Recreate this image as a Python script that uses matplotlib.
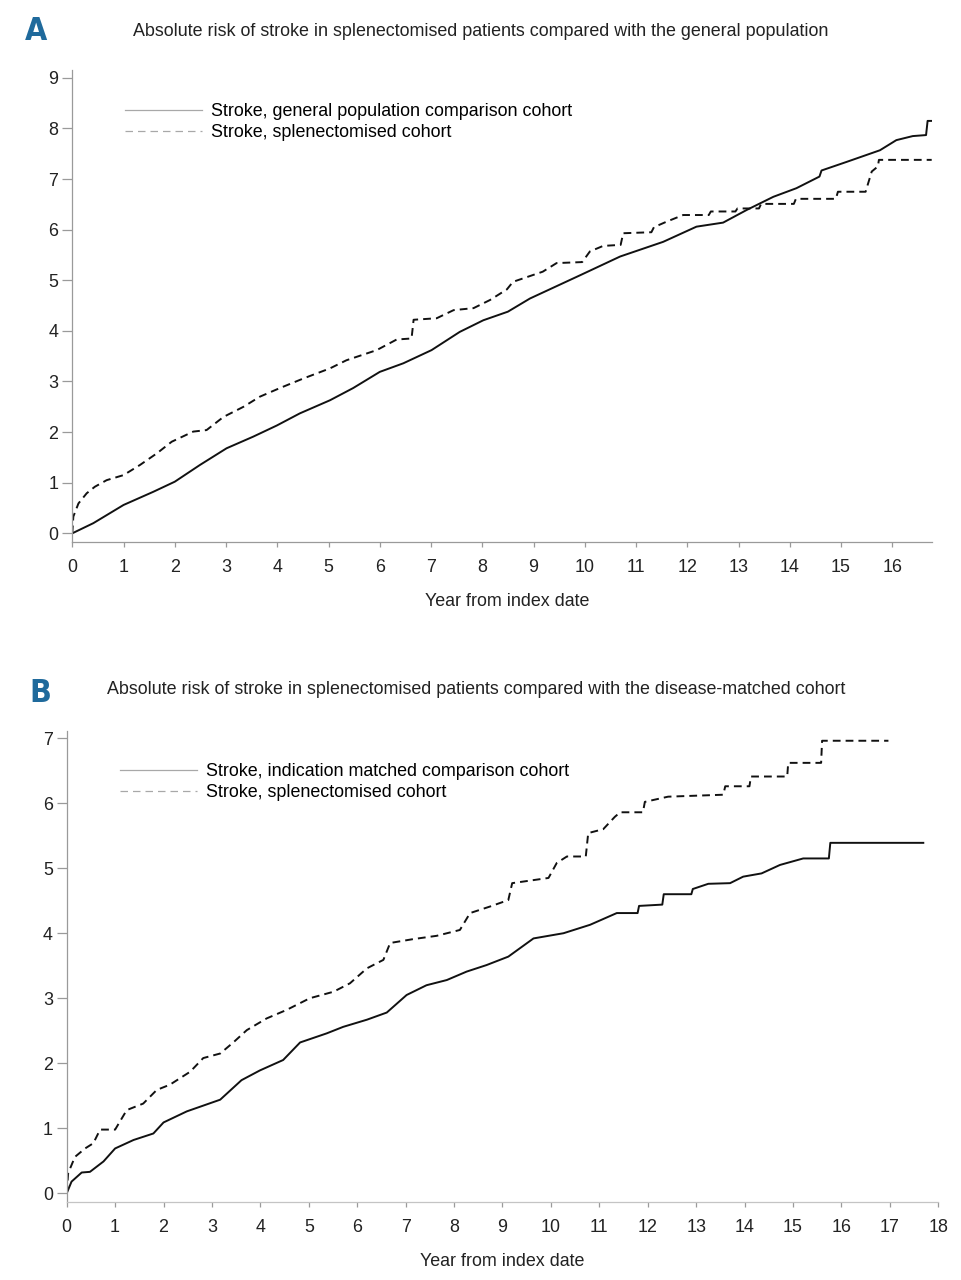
import matplotlib
matplotlib.use("Agg")
import matplotlib.pyplot as plt
from matplotlib.lines import Line2D

plt.rcParams['font.family'] = ['Liberation Sans', 'DejaVu Sans']

# ---- data (year from index date, absolute risk %) ----
# panel A: general population comparison cohort
yrs_a_gen = [0, 0.41, 1.0, 1.58, 2.0, 2.49, 3.01, 3.53, 3.99, 4.44, 5.03, 5.48, 6.0, 6.46,
             7.01, 7.56, 8.02, 8.5, 8.93, 9.91, 10.69, 11.53, 12.18, 12.70, 13.16, 13.68,
             14.13, 14.58, 14.62, 15.11, 15.76, 16.08, 16.4, 16.66, 16.69, 16.77]
risk_a_gen = [0, 0.2, 0.56, 0.82, 1.02, 1.35, 1.68, 1.91, 2.13, 2.37, 2.63, 2.87, 3.19, 3.36,
              3.62, 3.98, 4.21, 4.38, 4.64, 5.10, 5.47, 5.76, 6.06, 6.14, 6.39, 6.65,
              6.82, 7.05, 7.17, 7.34, 7.57, 7.77, 7.85, 7.87, 8.15, 8.15]

# panel A: splenectomised cohort
yrs_a_spl = [0, 0.02, 0.12, 0.28, 0.44, 0.67, 1.0, 1.32, 1.65, 1.94, 2.36, 2.62, 2.95, 3.34,
             3.66, 4.05, 4.51, 5.03, 5.35, 5.94, 6.33, 6.62, 6.66, 7.11, 7.44, 7.83, 8.15,
             8.48, 8.6, 9.18, 9.45, 9.95, 10.1, 10.36, 10.7, 10.75, 11.3, 11.35, 11.6, 11.92,
             12.42, 12.46, 12.94, 12.98, 13.4, 13.44, 14.08, 14.12, 14.9, 14.94, 15.48,
             15.6, 15.72, 15.74, 16.77]
risk_a_spl = [0, 0.33, 0.59, 0.79, 0.92, 1.05, 1.15, 1.35, 1.58, 1.81, 2.01, 2.04, 2.30, 2.50,
              2.70, 2.87, 3.06, 3.26, 3.42, 3.62, 3.83, 3.85, 4.22, 4.25, 4.41, 4.45, 4.61,
              4.82, 4.97, 5.17, 5.34, 5.36, 5.57, 5.68, 5.70, 5.93, 5.95, 6.05, 6.16, 6.29,
              6.29, 6.36, 6.36, 6.42, 6.42, 6.51, 6.51, 6.61, 6.61, 6.75, 6.75,
              7.15, 7.25, 7.38, 7.38]

# panel B: indication matched comparison cohort
yrs_b_ind = [0, 0.1, 0.31, 0.48, 0.76, 1.0, 1.38, 1.79, 2.0, 2.48, 3.17, 3.61, 3.99, 4.47,
             4.82, 5.37, 5.71, 6.2, 6.61, 7.02, 7.43, 7.85, 8.26, 8.67, 9.12, 9.64, 10.26,
             10.81, 11.36, 11.79, 11.82, 12.3, 12.33, 12.9, 12.93, 13.25, 13.7, 13.97, 14.35,
             14.73, 15.21, 15.74, 15.77, 17.69]
risk_b_ind = [0, 0.18, 0.32, 0.33, 0.49, 0.69, 0.82, 0.92, 1.09, 1.26, 1.44, 1.74, 1.89, 2.05,
              2.32, 2.46, 2.56, 2.67, 2.78, 3.05, 3.20, 3.28, 3.41, 3.51, 3.64, 3.92, 4.0,
              4.13, 4.31, 4.31, 4.42, 4.44, 4.60, 4.60, 4.68, 4.76, 4.77, 4.87, 4.92,
              5.05, 5.15, 5.15, 5.39, 5.39]

# panel B: splenectomised cohort
yrs_b_spl = [0, 0.03, 0.17, 0.38, 0.55, 0.69, 1.0, 1.24, 1.58, 1.86, 2.13, 2.55, 2.82, 3.17,
             3.44, 3.72, 4.13, 4.54, 5.02, 5.51, 5.85, 6.2, 6.54, 6.68, 7.16, 7.64, 8.12,
             8.33, 8.74, 9.12, 9.2, 9.95, 10.12, 10.33, 10.72, 10.77, 11.08, 11.32, 11.43,
             11.9, 11.94, 12.42, 13.56, 13.6, 14.1, 14.13, 14.88, 14.9, 15.58, 15.6, 16.97]
risk_b_spl = [0, 0.31, 0.56, 0.69, 0.77, 0.98, 0.98, 1.28, 1.38, 1.59, 1.67, 1.87, 2.08, 2.15,
              2.32, 2.51, 2.69, 2.82, 3.0, 3.10, 3.23, 3.46, 3.59, 3.85, 3.91, 3.96, 4.05,
              4.31, 4.41, 4.51, 4.77, 4.85, 5.08, 5.18, 5.18, 5.54, 5.60, 5.79, 5.86,
              5.86, 6.02, 6.10, 6.13, 6.26, 6.26, 6.41, 6.41, 6.62, 6.62, 6.96, 6.96]

title_a = "Absolute risk of stroke in splenectomised patients compared with the general population"
title_b = "Absolute risk of stroke in splenectomised patients compared with the disease-matched cohort"
legend_a = ["Stroke, general population comparison cohort", "Stroke, splenectomised cohort"]
legend_b = ["Stroke, indication matched comparison cohort", "Stroke, splenectomised cohort"]

W, H = 962, 1280
FS = 12.9
spine_col = '#9a9a9a'
label_blue = '#1f6a9c'

fig = plt.figure(figsize=(W / 100, H / 100), dpi=100)


def px_axes(left, top, right, bottom):
    return fig.add_axes([left / W, 1 - bottom / H, (right - left) / W, (bottom - top) / H])


def style(ax):
    for s in ['top', 'right']:
        ax.spines[s].set_visible(False)
    for s in ['left', 'bottom']:
        ax.spines[s].set_color(spine_col)
        ax.spines[s].set_linewidth(0.9)
    ax.tick_params(axis='y', length=7, width=0.9, color=spine_col, pad=3,
                   labelsize=FS, labelcolor='#222222')
    ax.tick_params(axis='x', length=3.5, width=0.9, color=spine_col, pad=9,
                   labelsize=FS, labelcolor='#222222')


def legend(ax, labels, x, y):
    handles = [Line2D([], [], color='#a8a8a8', lw=0.9),
               Line2D([], [], color='#a8a8a8', lw=0.9, dashes=(6, 4))]
    ax.legend(handles, labels, loc='upper left', bbox_to_anchor=(x / W, 1 - y / H),
              bbox_transform=fig.transFigure, frameon=False, fontsize=FS,
              borderpad=0, borderaxespad=0, handlelength=4.3, handletextpad=0.5,
              labelspacing=0.25)


def panel_letter(x, y, s):
    fig.text(x / W, 1 - y / H, s, ha='center', va='center', fontsize=23, fontweight='bold',
             fontstretch='condensed', color=label_blue,
             family=['DejaVu Sans', 'Liberation Sans'])


# ---------------- panel A ----------------
axA = px_axes(72.3, 70, 931.7, 541.7)
axA.plot(yrs_a_gen, risk_a_gen, color='#111111', lw=1.4)
axA.plot(yrs_a_spl, risk_a_spl, color='#111111', lw=1.4, dashes=(4, 2.6))
axA.set_xlim(0, 16.77)
axA.set_ylim(-0.166, 9.156)
axA.set_xticks(range(0, 17))
axA.set_yticks(range(0, 10))
style(axA)
legend(axA, legend_a, 125, 103)

panel_letter(36, 31, "A")
fig.text(481 / W, 1 - 31 / H, title_a, ha='center', va='center', fontsize=FS, color='#222222')
fig.text(507 / W, 1 - 602 / H, "Year from index date", ha='center', va='center',
         fontsize=FS, color='#222222')

# ---------------- panel B ----------------
axB = px_axes(66.7, 731, 938.3, 1201.7)
axB.plot(yrs_b_ind, risk_b_ind, color='#111111', lw=1.4)
axB.plot(yrs_b_spl, risk_b_spl, color='#111111', lw=1.4, dashes=(4, 2.6))
axB.set_xlim(0, 18)
axB.set_ylim(-0.129, 7.11)
axB.set_xticks(range(0, 19))
axB.set_yticks(range(0, 8))
style(axB)
axB.spines['bottom'].set_color('#c4c4c4')
legend(axB, legend_b, 120, 763)

panel_letter(40, 693, "B")
fig.text(476 / W, 1 - 690 / H, title_b, ha='center', va='center', fontsize=FS, color='#222222')
fig.text(502 / W, 1 - 1262 / H, "Year from index date", ha='center', va='center',
         fontsize=FS, color='#222222')

fig.savefig("out.png", dpi=100, facecolor='white')
